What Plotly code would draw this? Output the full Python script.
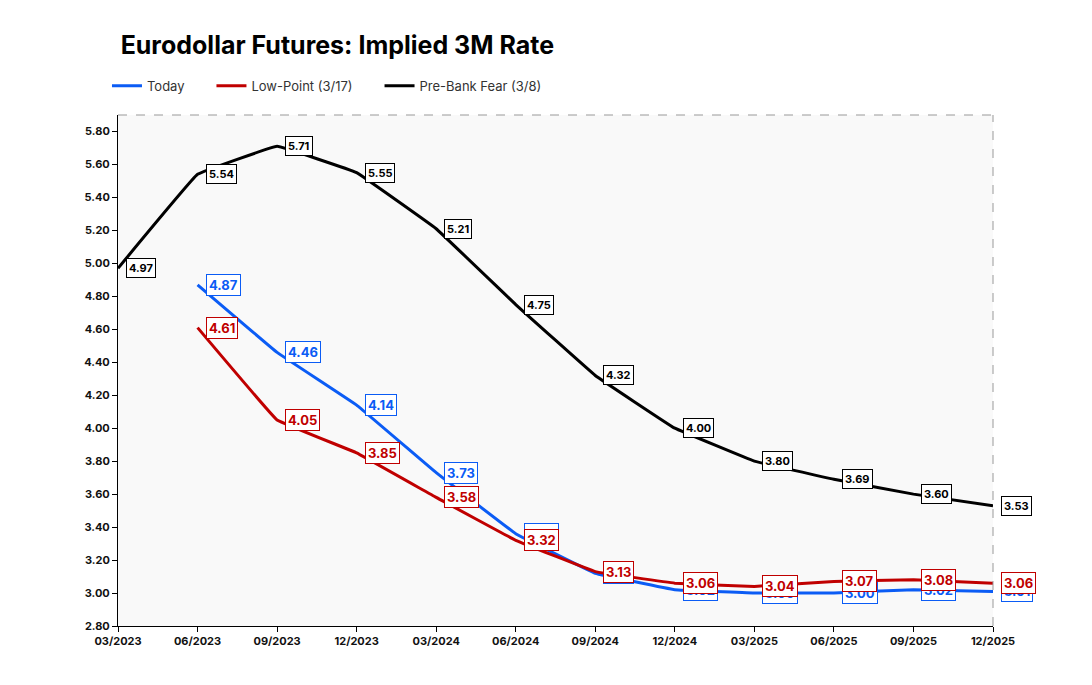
import plotly.graph_objects as go

dates = ["03/2023", "06/2023", "09/2023", "12/2023", "03/2024", "06/2024",
         "09/2024", "12/2024", "03/2025", "06/2025", "09/2025", "12/2025"]

today = [None, 4.87, 4.46, 4.14, 3.73, 3.36, 3.12, 3.02, 3.00, 3.00, 3.02, 3.01]
low_point = [None, 4.61, 4.05, 3.85, 3.58, 3.32, 3.13, 3.06, 3.04, 3.07, 3.08, 3.06]
pre_bank = [4.97, 5.54, 5.71, 5.55, 5.21, 4.75, 4.32, 4.00, 3.80, 3.69, 3.60, 3.53]

y_ticks = [2.8, 3.0, 3.2, 3.4, 3.6, 3.8, 4.0, 4.2, 4.4, 4.6, 4.8, 5.0, 5.2, 5.4, 5.6, 5.8]

BLUE = "#0b5cf5"
RED = "#c00000"
BLACK = "#000000"
FONT = "Inter"
PAD = "\u00a0" * 6

xs = list(range(len(dates)))

fig = go.Figure()
series = [
    ("Today", today, BLUE),
    ("Low-Point (3/17)", low_point, RED),
    ("Pre-Bank Fear (3/8)", pre_bank, BLACK),
]
for name, vals, col in series:
    px = [x for x, v in zip(xs, vals) if v is not None]
    py = [v for v in vals if v is not None]
    fig.add_trace(go.Scatter(
        x=px, y=py, name=name + PAD, mode="lines",
        line=dict(color=col, width=3, shape="spline", smoothing=0.15),
        hoverinfo="skip",
    ))

annotations = []
label_sets = [
    (pre_bank, BLACK, 11),
    (today, BLUE, 13),
    (low_point, RED, 13),
]
for vals, col, size in label_sets:
    for x, v in zip(xs, vals):
        if v is None:
            continue
        annotations.append(dict(
            x=x, y=v, xref="x", yref="y", text=f"<b>{v:.2f}</b>",
            showarrow=False, xanchor="left", yanchor="middle", xshift=8,
            font=dict(family=FONT, size=size, color=col),
            bgcolor="white", bordercolor=col, borderwidth=1, borderpad=2,
        ))

shapes = [
    dict(type="line", xref="paper", yref="paper", x0=0, x1=1, y0=1, y1=1,
         line=dict(color="#999999", width=1, dash="dash")),
    dict(type="line", xref="paper", yref="paper", x0=1, x1=1, y0=0, y1=1,
         line=dict(color="#999999", width=1, dash="dash")),
]

fig.update_layout(
    width=1092, height=685,
    margin=dict(l=110, r=107, t=107, b=67),
    paper_bgcolor="white",
    plot_bgcolor="#f9f9f9",
    title=dict(text="<b>Eurodollar Futures: Implied 3M Rate</b>",
               x=0.003, xref="paper", xanchor="left", y=0.945, yanchor="middle",
               font=dict(family=FONT, size=25, color="#000000")),
    legend=dict(orientation="h", x=-0.0126, xanchor="left", y=1.057, yanchor="middle",
                font=dict(family=FONT, size=13, color="#333333"),
                bgcolor="rgba(0,0,0,0)", itemwidth=30),
    xaxis=dict(range=[0, 11], tickvals=xs, ticktext=[f"<b>{d}</b>" for d in dates],
               showgrid=False, zeroline=False, showline=True, linecolor="black",
               linewidth=1, ticks="outside", ticklen=5, tickcolor="black",
               tickfont=dict(family=FONT, size=11, color="#111111")),
    yaxis=dict(range=[2.8, 5.9], tickvals=y_ticks,
               ticktext=[f"<b>{t:.2f}</b>" for t in y_ticks], showgrid=False,
               zeroline=False, showline=True, linecolor="black", linewidth=1,
               ticks="outside", ticklen=5, tickcolor="black",
               tickfont=dict(family=FONT, size=11, color="#111111")),
    annotations=annotations,
    shapes=shapes,
    showlegend=True,
)

fig.write_html("out.html")
